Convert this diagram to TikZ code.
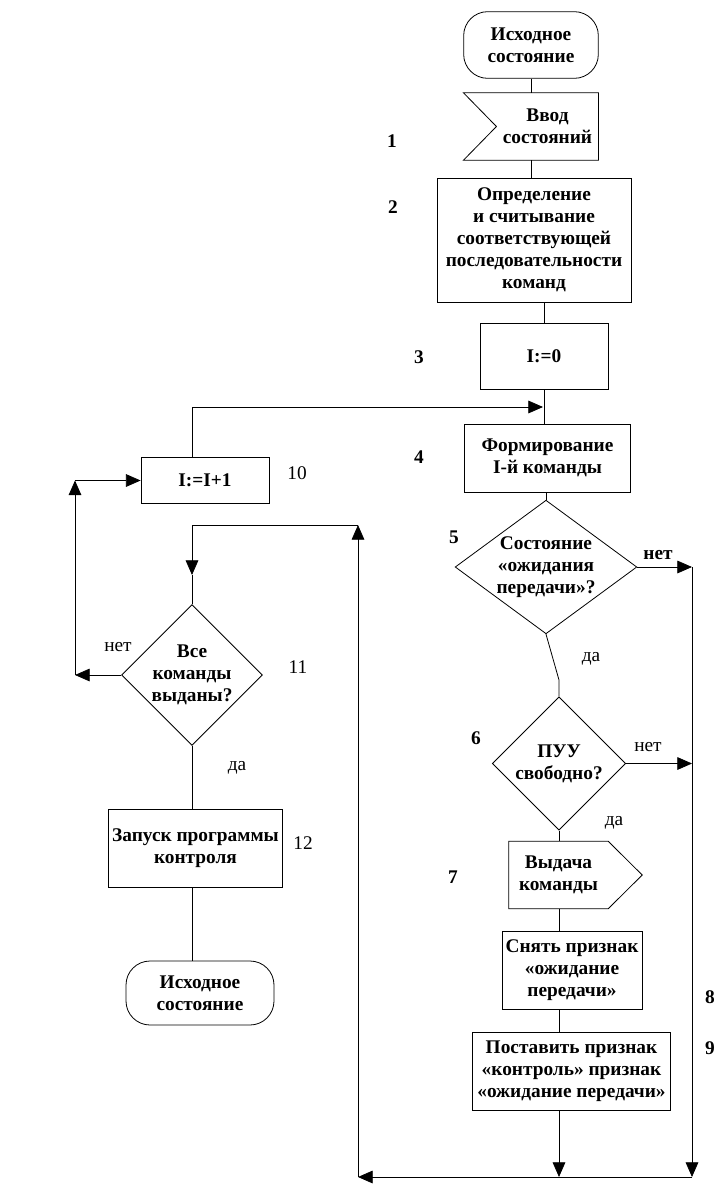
\documentclass[tikz,border=0pt]{standalone}
\usepackage{fontspec}
\setmainfont{Liberation Serif}
\usetikzlibrary{arrows.meta,shapes.geometric,calc}
\tikzset{
  box/.style={rectangle, draw=black, line width=0.6pt, align=center, inner sep=0.5pt, font=\fontsize{14.5}{16.5}\selectfont\bfseries},
  term/.style={box, rounded corners=18pt},
  dia/.style={diamond, draw=black, line width=0.6pt, align=center, inner sep=0pt, font=\fontsize{14.5}{16.5}\selectfont\bfseries},
  num/.style={font=\fontsize{14.5}{16.5}\selectfont\bfseries},
  lbl/.style={font=\fontsize{14.5}{16.5}\selectfont},
  line/.style={line width=0.6pt, draw=black},
  arrow/.style={line, -{Triangle[length=11pt,width=9.5pt]}}
}
\begin{document}
\begin{tikzpicture}[x=0.75pt, y=-0.75pt]
  \useasboundingbox (0,0) rectangle (727,1200);
  % right column
  \node[term, minimum width=101pt, minimum height=50pt] (start) at (531,45) {Исходное\\состояние};
  \node[box, draw=none, minimum width=76pt, minimum height=50pt] (in) at (547.5,126.5) {Ввод\\состояний};
  \draw[line] (in.north east) -- (in.south east) -- ($(in.south west)+(-33,0)$) -- (in.west) -- ($(in.north west)+(-33,0)$) -- cycle;
  \node[box, minimum width=145.5pt, minimum height=93pt] (b2) at (534,240) {Определение\\и считывание\\соответствующей\\последовательности\\команд};
  \node[box, minimum width=96pt, minimum height=50pt] (b3) at (544,356.5) {I:=0};
  \node[box, minimum width=125pt, minimum height=51pt] (b4) at (547.5,458) {Формирование\\I-й команды};
  \node[dia, minimum width=134pt, minimum height=99pt, aspect=1.36] (d5) at (546,567) {Состояние\\«ожидания\\передачи»?};
  \node[dia, minimum width=100pt, minimum height=100pt] (d6) at (559,763.5) {ПУУ\\свободно?};
  \node[box, draw=none, minimum width=74pt, minimum height=50pt] (b7) at (558.5,875) {Выдача\\команды};
  \draw[line] (b7.north west) -- (b7.north east) -- ($(b7.east)+(34,0)$) -- (b7.south east) -- (b7.south west) -- cycle;
  \node[box, minimum width=105pt, minimum height=58pt] (b8) at (572,970.5) {Снять признак\\«ожидание\\передачи»};
  \node[box, minimum width=148pt, minimum height=59pt] (b9) at (571.5,1071.5) {Поставить признак\\«контроль» признак\\«ожидание передачи»};
  % left column
  \node[box, minimum width=96pt, minimum height=34pt] (b10) at (205,480.5) {I:=I+1};
  \node[dia, minimum width=100pt, minimum height=100pt] (d11) at (192,675) {Все\\команды\\выданы?};
  \node[box, minimum width=130pt, minimum height=58.5pt] (b12) at (195.5,848) {Запуск программы\\контроля};
  \node[term, minimum width=111pt, minimum height=48pt] (end) at (200,993) {Исходное\\состояние};
  % numbers
  \node[num] (n1) at (392,141) {1};
  \node[num] (n2) at (393,207) {2};
  \node[num] (n3) at (419,357) {3};
  \node[num] (n4) at (419,457) {4};
  \node[num] (n5) at (454,537) {5};
  \node[num] (n6) at (476,738) {6};
  \node[num] (n7) at (453,877) {7};
  \node[num] (n8) at (710,997) {8};
  \node[num] (n9) at (710,1048) {9};
  \node[lbl] (n10) at (297,473) {10};
  \node[lbl] (n11) at (298,667) {11};
  \node[lbl] (n12) at (303,843) {12};
  % yes / no
  \node[num] (no5) at (658,555) {нет};
  \node[lbl] (no6) at (648,747) {нет};
  \node[lbl] (no11) at (118,647) {нет};
  \node[lbl] (yes5) at (591,659) {да};
  \node[lbl] (yes6) at (614,823) {да};
  \node[lbl] (yes11) at (237,768) {да};
  % bends
  \coordinate (j1) at (543,407);
  \coordinate (k1) at (559,680);
  \coordinate (r1) at (692,567);
  \coordinate (r2) at (692,1177);
  \coordinate (l2) at (358,1177);
  \coordinate (l1) at (358,525);
  \coordinate (l0) at (192,525);
  \coordinate (m1) at (192,575);
  \coordinate (t1) at (75,675);
  \coordinate (t2) at (75,480.5);
  % connectors
  \draw[line] (start.south) -- (start.south |- in.north);
  \draw[line] (start.south |- in.south) -- (start.south |- b2.north);
  \draw[line] (b3.north |- b2.south) -- (b3.north);
  \draw[line] (b3.south) -- (b3.south |- b4.north);
  \draw[arrow] (b10.north -| l0) |- (j1);
  \draw[line] (d5.north |- b4.south) -- (d5.north);
  \draw[line] (d5.south) -- (k1) -- (d6.north);
  \draw[arrow] (d5.east) -- (r1);
  \draw[arrow] (d6.east) -- (d6.east -| r1);
  \draw[arrow] (r1) -- (r2);
  \draw[arrow] (r2) -- (l2);
  \draw[arrow] (l2) -- (l1);
  \draw[arrow] (l1) -- (l0) -- (m1);
  \draw[line] (m1) -- (d11.north);
  \draw[line] (d6.south) -- (d6.south |- b7.north);
  \draw[line] (d6.south |- b7.south) -- (d6.south |- b8.north);
  \draw[line] (d6.south |- b8.south) -- (d6.south |- b9.north);
  \draw[arrow] (d6.south |- b9.south) -- (d6.south |- r2);
  \draw[arrow] (d11.west) -- (t1);
  \draw[arrow] (t1) -- (t2);
  \draw[arrow] (t2) -- (b10.west);
  \draw[line] (d11.south) -- (d11.south |- b12.north);
  \draw[line] (d11.south |- b12.south) -- (d11.south |- end.north);
\end{tikzpicture}
\end{document}
